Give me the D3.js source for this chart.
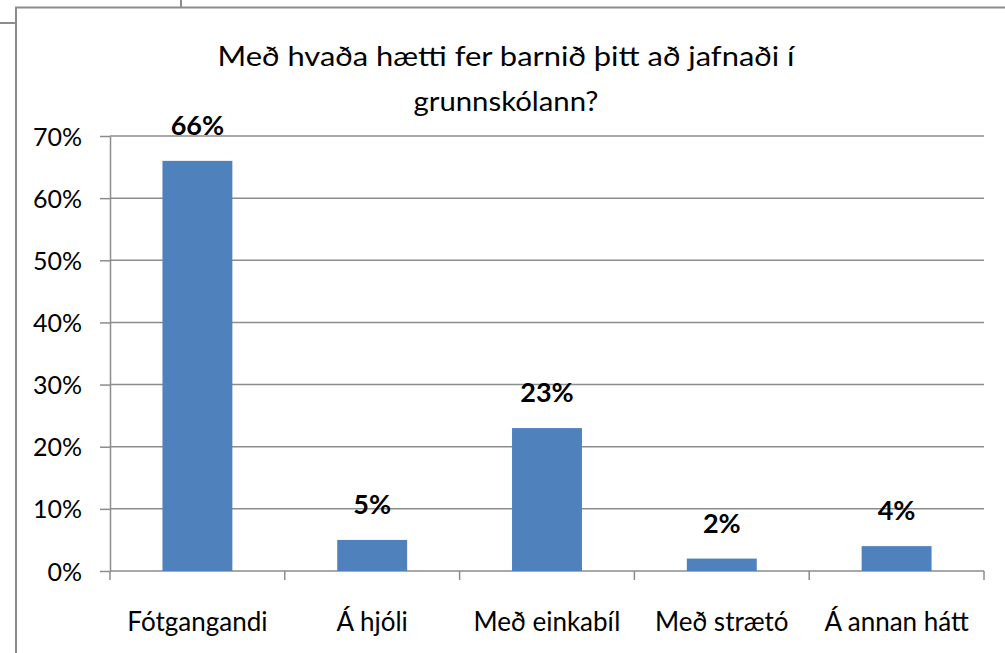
<!DOCTYPE html>
<html>
<head>
<meta charset="utf-8">
<title>Chart</title>
<style>
  body { margin: 0; background: #fff; }
  svg { display: block; }
  text { font-family: Lato, "Open Sans", sans-serif; fill: #000; }
</style>
</head>
<body>
<div class="chart"></div>
<script src="https://cdn.jsdelivr.net/npm/d3@7"></script>
<script>
var categories = ["Fótgangandi", "Á hjóli", "Með einkabíl", "Með strætó", "Á annan hátt"];
var values     = [0.66, 0.05, 0.23, 0.02, 0.04];
var yTicks     = [0, 0.1, 0.2, 0.3, 0.4, 0.5, 0.6, 0.7];
var titleLines = ["Með hvaða hætti fer barnið þitt að jafnaði í", "grunnskólann?"];

var width  = 1005;
var height = 653;
// plot box (top is a reserved global name, so prefix them)
var pLeft = 110, pRight = 984, pTop = 136, pBottom = 571;

var svg = d3.select(".chart").append("svg")
	.attr("width", width)
	.attr("height", height);

// frame bits from the cropped screenshot
svg.append("path")
	.attr("d", "M16,653 L16,7.5 L1005,7.5 M0,23 L16,23 M181,0 L181,7.5")
	.attr("fill", "none")
	.attr("stroke", "#8c8c8c")
	.attr("stroke-width", 2);

var x = d3.scaleBand().domain(categories).range([pLeft, pRight]).paddingInner(0.6).paddingOuter(0.3);
var y = d3.scaleLinear().domain([0, 0.7]).range([pBottom, pTop]);

// gridlines
svg.append("g").selectAll("line")
	.data(yTicks.filter(function(d){ return d > 0; }))
	.enter().append("line")
	.attr("x1", pLeft).attr("x2", pRight)
	.attr("y1", function(d){ return y(d); })
	.attr("y2", function(d){ return y(d); })
	.attr("stroke", "#8c8c8c")
	.attr("stroke-width", 1.5);

// y axis
var yAxis = svg.append("g")
	.attr("transform", "translate(" + pLeft + ",0)")
	.call(d3.axisLeft(y).tickValues(yTicks).tickFormat(d3.format(".0%")).tickSize(10).tickSizeOuter(0).tickPadding(18));
yAxis.select(".domain").attr("stroke", "#8c8c8c").attr("stroke-width", 1.5);
yAxis.selectAll("line").attr("stroke", "#8c8c8c").attr("stroke-width", 1.5);
yAxis.selectAll("text").style("font-size", "25px").attr("fill", "#000").attr("dy", "0.36em");

// x axis line + category ticks
var step = (pRight - pLeft) / categories.length;
svg.append("line")
	.attr("x1", pLeft).attr("x2", pRight)
	.attr("y1", pBottom).attr("y2", pBottom)
	.attr("stroke", "#8c8c8c").attr("stroke-width", 1.5);
svg.append("g").selectAll("line")
	.data(d3.range(categories.length + 1))
	.enter().append("line")
	.attr("x1", function(i){ return pLeft + i * step; })
	.attr("x2", function(i){ return pLeft + i * step; })
	.attr("y1", pBottom).attr("y2", pBottom + 9)
	.attr("stroke", "#8c8c8c").attr("stroke-width", 1.5);

svg.append("g").selectAll("text")
	.data(categories)
	.enter().append("text")
	.attr("x", function(d){ return x(d) + x.bandwidth() / 2; })
	.attr("y", 631)
	.attr("text-anchor", "middle")
	.style("font-size", "26px")
	.text(function(d){ return d; });

// bars
svg.append("g").selectAll("rect")
	.data(values)
	.enter().append("rect")
	.attr("x", function(d, i){ return x(categories[i]); })
	.attr("width", x.bandwidth())
	.attr("y", function(d){ return y(d); })
	.attr("height", function(d){ return pBottom - y(d); })
	.attr("fill", "#4f81bd");

// value labels
svg.append("g").selectAll("text")
	.data(values)
	.enter().append("text")
	.attr("x", function(d, i){ return x(categories[i]) + x.bandwidth() / 2; })
	.attr("y", function(d){ return y(d) - 26; })
	.attr("text-anchor", "middle")
	.style("font-size", "27px")
	.style("font-weight", "bold")
	.text(function(d){ return d3.format(".0%")(d); });

// title (Calibri in the original is wider than Lato, so stretch a bit)
var titleWidths = [577, 185];
svg.append("g").selectAll("text")
	.data(titleLines)
	.enter().append("text")
	.attr("x", 506)
	.attr("y", function(d, i){ return 66 + i * 45; })
	.attr("text-anchor", "middle")
	.attr("textLength", function(d, i){ return titleWidths[i]; })
	.attr("lengthAdjust", "spacingAndGlyphs")
	.style("font-size", "27px")
	.text(function(d){ return d; });
</script>
</body>
</html>
